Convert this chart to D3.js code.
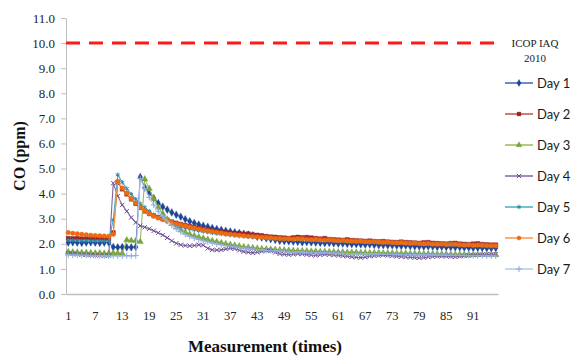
<!DOCTYPE html>
<html>
<head>
<meta charset="utf-8">
<script src="https://d3js.org/d3.v7.min.js"></script>
<style>
  body { margin: 0; background: #fff; }
  .tick text { font-family: "Liberation Serif", "Times New Roman", serif; fill: #262626; }
  .legend text { font-family: Lato, "Open Sans", sans-serif; font-size: 13px; fill: #1a1a1a; }
</style>
</head>
<body>
<svg id="chart" width="577" height="358"></svg>
<script>
// measurement number 1..96 (x categories)
var measurements = d3.range(1, 97);
var xTickLabels = [1, 7, 13, 19, 25, 31, 37, 43, 49, 55, 61, 67, 73, 79, 85, 91];
var yTickValues = [0, 1, 2, 3, 4, 5, 6, 7, 8, 9, 10, 11];
var seriesNames = ['Day 1', 'Day 2', 'Day 3', 'Day 4', 'Day 5', 'Day 6', 'Day 7'];
var limitValue = 10.0;
var limitLabel = ['ICOP IAQ', '2010'];

var day1 = [2.05,2.06,2.05,2.04,2.05,2.06,2.05,2.04,2.05,2.05,
  1.87,1.86,1.87,1.86,1.86,1.87,4.66,4.25,4.02,3.82,
  3.62,3.48,3.36,3.25,3.16,3.08,2.98,2.90,2.83,2.77,
  2.72,2.68,2.63,2.59,2.56,2.52,2.49,2.46,2.43,2.40,
  2.37,2.34,2.28,2.25,2.22,2.19,2.16,2.12,2.11,2.10,
  2.09,2.08,2.06,2.07,2.06,2.05,2.04,2.03,2.04,2.02,
  2.01,2.01,2.00,1.99,1.99,1.98,1.97,1.98,1.96,1.95,
  1.95,1.94,1.94,1.93,1.92,1.93,1.91,1.90,1.90,1.89,
  1.90,1.89,1.88,1.88,1.87,1.87,1.86,1.86,1.85,1.85,
  1.84,1.84,1.84,1.83,1.83,1.83];
var day2 = [2.22,2.21,2.22,2.20,2.21,2.20,2.21,2.20,2.19,2.20,
  2.45,4.45,4.18,3.98,3.78,3.60,3.44,3.30,3.20,3.12,
  3.06,3.00,2.95,2.88,2.83,2.78,2.74,2.70,2.66,2.63,
  2.58,2.55,2.52,2.50,2.46,2.45,2.43,2.40,2.42,2.38,
  2.40,2.36,2.35,2.33,2.30,2.28,2.27,2.25,2.24,2.22,
  2.25,2.27,2.25,2.26,2.24,2.22,2.20,2.22,2.18,2.17,
  2.16,2.15,2.17,2.14,2.13,2.12,2.11,2.12,2.10,2.09,
  2.10,2.08,2.07,2.06,2.08,2.06,2.05,2.04,2.03,2.05,
  2.06,2.03,2.02,2.01,2.00,2.02,2.03,2.00,1.99,1.98,
  2.00,2.01,1.98,1.97,1.96,1.96];
var day3 = [1.68,1.67,1.66,1.65,1.65,1.64,1.63,1.63,1.62,1.62,
  1.63,1.62,1.62,2.15,2.13,2.12,2.08,4.58,4.20,3.80,
  3.45,3.20,2.98,2.80,2.66,2.55,2.46,2.38,2.32,2.27,
  2.22,2.17,2.12,2.08,2.04,2.00,1.97,1.94,1.91,1.88,
  1.86,1.84,1.82,1.80,1.79,1.78,1.77,1.76,1.75,1.74,
  1.73,1.72,1.72,1.71,1.70,1.70,1.69,1.69,1.68,1.68,
  1.67,1.67,1.66,1.66,1.66,1.65,1.65,1.64,1.64,1.64,
  1.63,1.63,1.63,1.62,1.62,1.62,1.61,1.61,1.61,1.60,
  1.60,1.60,1.59,1.59,1.59,1.58,1.58,1.58,1.58,1.57,
  1.57,1.57,1.57,1.56,1.56,1.56];
var day4 = [1.62,1.60,1.58,1.57,1.56,1.55,1.54,1.54,1.53,1.53,
  4.42,3.90,3.55,3.30,3.05,2.85,2.72,2.66,2.60,2.52,
  2.44,2.35,2.24,2.12,2.02,1.96,1.93,1.92,1.93,1.96,
  1.94,1.82,1.76,1.75,1.76,1.79,1.82,1.80,1.74,1.69,
  1.66,1.64,1.66,1.70,1.73,1.72,1.66,1.60,1.58,1.57,
  1.58,1.60,1.59,1.57,1.55,1.54,1.56,1.58,1.57,1.55,
  1.54,1.52,1.50,1.48,1.46,1.45,1.47,1.50,1.52,1.53,
  1.55,1.54,1.52,1.50,1.49,1.47,1.46,1.45,1.44,1.45,
  1.47,1.49,1.50,1.51,1.50,1.49,1.48,1.50,1.52,1.53,
  1.55,1.56,1.57,1.58,1.58,1.59];
var day5 = [2.15,2.14,2.14,2.13,2.13,2.12,2.12,2.12,2.11,2.11,
  2.95,4.75,4.45,4.20,3.98,3.78,3.60,3.45,3.30,3.16,
  3.05,2.96,2.88,2.80,2.74,2.68,2.63,2.59,2.55,2.52,
  2.49,2.46,2.43,2.41,2.39,2.37,2.35,2.33,2.31,2.30,
  2.28,2.27,2.25,2.24,2.22,2.21,2.20,2.19,2.18,2.17,
  2.17,2.16,2.15,2.15,2.14,2.14,2.13,2.13,2.12,2.12,
  2.11,2.11,2.10,2.10,2.09,2.09,2.08,2.08,2.07,2.07,
  2.06,2.06,2.05,2.05,2.04,2.04,2.03,2.03,2.02,2.02,
  2.01,2.01,2.00,2.00,1.99,1.99,1.98,1.98,1.97,1.97,
  1.96,1.96,1.95,1.95,1.94,1.94];
var day6 = [2.45,2.42,2.40,2.38,2.36,2.34,2.33,2.32,2.31,2.30,
  2.38,4.49,4.22,4.02,3.80,3.62,3.46,3.32,3.20,3.10,
  3.03,2.97,2.91,2.85,2.80,2.75,2.71,2.67,2.63,2.59,
  2.55,2.52,2.49,2.46,2.43,2.40,2.38,2.36,2.34,2.32,
  2.30,2.29,2.28,2.26,2.25,2.24,2.22,2.21,2.20,2.20,
  2.19,2.21,2.20,2.18,2.17,2.18,2.16,2.15,2.16,2.14,
  2.13,2.14,2.12,2.11,2.10,2.11,2.09,2.08,2.09,2.07,
  2.06,2.07,2.05,2.04,2.05,2.03,2.02,2.03,2.01,2.00,
  2.01,1.99,1.98,1.99,1.97,1.98,1.99,1.96,1.95,1.96,
  1.94,1.95,1.94,1.93,1.92,1.92];
var day7 = [1.56,1.55,1.55,1.54,1.54,1.53,1.53,1.53,1.52,1.52,
  1.53,1.52,1.52,1.53,1.52,1.53,4.60,4.20,3.85,3.55,
  3.30,3.08,2.90,2.74,2.60,2.48,2.38,2.30,2.23,2.17,
  2.12,2.07,2.03,1.99,1.96,1.93,1.90,1.88,1.85,1.83,
  1.81,1.79,1.77,1.76,1.74,1.73,1.72,1.71,1.70,1.69,
  1.68,1.67,1.67,1.66,1.65,1.65,1.64,1.64,1.63,1.63,
  1.62,1.62,1.61,1.61,1.61,1.60,1.60,1.60,1.59,1.59,
  1.59,1.58,1.58,1.58,1.57,1.57,1.57,1.56,1.56,1.56,
  1.56,1.55,1.55,1.55,1.55,1.54,1.54,1.54,1.54,1.53,
  1.53,1.53,1.53,1.52,1.52,1.52];

var seriesValues = [day1, day2, day3, day4, day5, day6, day7];
var lineColors = ['#3a66b8', '#c0504d', '#9bbb59', '#8064a2', '#4bacc6', '#f79646', '#b4c7e7'];
var markerColors = ['#1f4596', '#9a1c1c', '#77a33a', '#6a4c94', '#2b8cab', '#ee6a10', '#8eaadb'];
var markerTypes = [d3.symbolDiamond, d3.symbolSquare, d3.symbolTriangle, d3.symbolX,
  d3.symbolAsterisk, d3.symbolCircle, d3.symbolPlus];
var strokeMarker = [false, false, false, true, true, false, true];

var svg = d3.select('#chart');

var x = d3.scaleBand()
  .domain(measurements)
  .range([66, 498])
  .padding(0);

var y = d3.scaleLinear()
  .domain([0, 11])
  .range([294, 18]);

function cx(d) { return x(d) + x.bandwidth() / 2; }

// y axis
var yAxis = svg.append('g')
  .attr('transform', 'translate(66,0)')
  .call(d3.axisLeft(y).tickValues(yTickValues).tickFormat(d3.format('.1f'))
    .tickSize(5).tickSizeOuter(0).tickPadding(6));
yAxis.select('.domain').attr('stroke', '#bfbfbf');
yAxis.selectAll('.tick line').attr('stroke', '#bfbfbf');
yAxis.selectAll('.tick text').style('font-size', '13px');

// x axis
var xAxis = svg.append('g')
  .attr('transform', 'translate(0,294)')
  .call(d3.axisBottom(x).tickValues(xTickLabels).tickSize(0).tickSizeOuter(0).tickPadding(17));
xAxis.select('.domain').attr('stroke', '#bfbfbf').attr('stroke-width', 1.5);
xAxis.selectAll('.tick text').style('font-size', '12.5px');

// ICOP IAQ limit line
svg.append('line')
  .attr('x1', 66).attr('x2', 503)
  .attr('y1', y(limitValue)).attr('y2', y(limitValue))
  .attr('stroke', '#ff1a1a')
  .attr('stroke-width', 3)
  .attr('stroke-dasharray', '14,9');

svg.selectAll('text.limit')
  .data(limitLabel)
  .enter().append('text')
  .attr('class', 'limit')
  .attr('x', 535)
  .attr('y', function(d, i) { return y(limitValue) + 4 + i * 15; })
  .attr('text-anchor', 'middle')
  .style('font-family', '"Liberation Serif", serif')
  .style('font-size', '11px')
  .style('fill', '#1a1a1a')
  .text(function(d) { return d; });

// series
var line = d3.line()
  .x(function(d) { return cx(d.m); })
  .y(function(d) { return y(d.v); });

seriesValues.forEach(function(vals, s) {
  var pts = vals.map(function(v, i) { return {m: measurements[i], v: v}; });
  var g = svg.append('g');
  g.append('path')
    .datum(pts)
    .attr('fill', 'none')
    .attr('stroke', lineColors[s])
    .attr('stroke-width', 1.1)
    .attr('d', line);
  g.selectAll('path.mk')
    .data(pts)
    .enter().append('path')
    .attr('class', 'mk')
    .attr('transform', function(d) { return 'translate(' + cx(d.m) + ',' + y(d.v) + ')'; })
    .attr('d', d3.symbol().type(markerTypes[s]).size(strokeMarker[s] ? 14 : 17))
    .attr('fill', strokeMarker[s] ? 'none' : markerColors[s])
    .attr('stroke', markerColors[s])
    .attr('stroke-width', strokeMarker[s] ? 1 : 0.4);
});

// legend
var legend = svg.append('g').attr('class', 'legend');
var items = legend.selectAll('g')
  .data(seriesNames)
  .enter().append('g')
  .attr('transform', function(d, i) { return 'translate(505,' + (83 + i * 31) + ')'; });
items.append('line')
  .attr('x1', 0).attr('x2', 28)
  .attr('stroke', function(d, i) { return lineColors[i]; })
  .attr('stroke-width', 1.5);
items.append('path')
  .attr('transform', 'translate(14,0)')
  .attr('d', function(d, i) { return d3.symbol().type(markerTypes[i]).size(14)(); })
  .attr('fill', function(d, i) { return strokeMarker[i] ? 'none' : markerColors[i]; })
  .attr('stroke', function(d, i) { return markerColors[i]; })
  .attr('stroke-width', function(d, i) { return strokeMarker[i] ? 1 : 0.4; });
items.append('text')
  .attr('x', 32)
  .attr('y', 5)
  .text(function(d) { return d; });

// axis titles
svg.append('text')
  .attr('x', 265)
  .attr('y', 352)
  .attr('text-anchor', 'middle')
  .style('font-family', '"Liberation Serif", serif')
  .style('font-weight', 'bold')
  .style('font-size', '17px')
  .style('fill', '#111')
  .text('Measurement (times)');

svg.append('text')
  .attr('transform', 'translate(25,156) rotate(-90)')
  .attr('text-anchor', 'middle')
  .style('font-family', '"Liberation Serif", serif')
  .style('font-weight', 'bold')
  .style('font-size', '16px')
  .style('fill', '#111')
  .text('CO (ppm)');
</script>
</body>
</html>
